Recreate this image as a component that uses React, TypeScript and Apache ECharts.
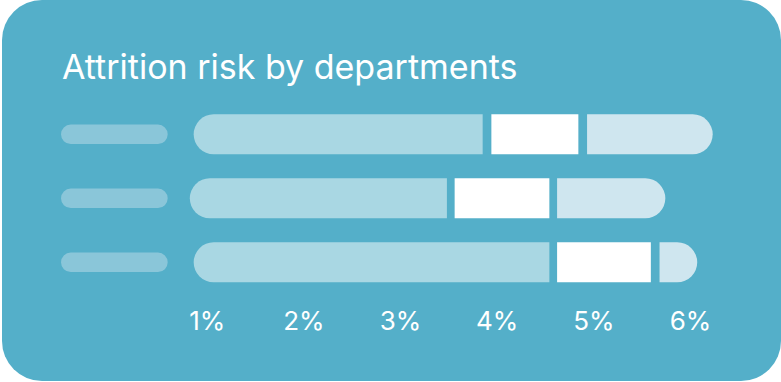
import React, { useEffect, useRef } from "react";
import * as echarts from "echarts";

const departments = ["Department A", "Department B", "Department C"];
const tickValues = [1, 2, 3, 4, 5, 6];
const barStart = [0.86, 0.82, 0.86];
const lowEnd = [3.85, 3.48, 4.54];
const midStart = [3.94, 3.56, 4.62];
const midEnd = [4.84, 4.54, 5.59];
const highStart = [4.93, 4.62, 5.68];
const highEnd = [6.23, 5.74, 6.07];
const labelPlaceholder = [1, 1, 1];

const BG = "#54AFC9";

export default function App() {
  const ref = useRef<HTMLDivElement>(null);
  useEffect(() => {
    if (!ref.current) return;
    const chart = echarts.init(ref.current, null, { renderer: "svg" });
    const offset = barStart;
    const seg1 = lowEnd.map((v, i) => +(v - barStart[i]).toFixed(3));
    const gap1 = midStart.map((v, i) => +(v - lowEnd[i]).toFixed(3));
    const seg2 = midEnd.map((v, i) => +(v - midStart[i]).toFixed(3));
    const gap2 = highStart.map((v, i) => +(v - midEnd[i]).toFixed(3));
    const seg3 = highEnd.map((v, i) => +(v - highStart[i]).toFixed(3));
    const base = { type: "bar", stack: "risk", barWidth: 40, xAxisIndex: 0, yAxisIndex: 0, silent: true };
    chart.setOption({
      animation: false,
      backgroundColor: "transparent",
      graphic: [
        {
          type: "rect",
          z: -10,
          silent: true,
          shape: { x: 2, y: 0, width: 779, height: 381, r: 40 },
          style: { fill: BG },
        },
      ],
      title: {
        text: "Attrition risk by departments",
        left: 62,
        top: 49,
        padding: 0,
        textStyle: { color: "#ffffff", fontFamily: "Inter", fontSize: 34, fontWeight: "normal" },
      },
      grid: [
        { left: 13.9, right: 42.2, top: 102.3, height: 192, containLabel: false },
        { left: 61, width: 106.7, top: 102.3, height: 192, containLabel: false },
      ],
      xAxis: [
        {
          type: "value",
          gridIndex: 0,
          min: -1,
          max: 6.5,
          interval: 1,
          axisLine: { show: false },
          axisTick: { show: false },
          splitLine: { show: false },
          axisLabel: {
            color: "#ffffff",
            fontFamily: "Inter",
            fontSize: 26,
            margin: 13,
            formatter: (v: number) => (tickValues.includes(v) ? v + "%" : ""),
          },
        },
        { type: "value", gridIndex: 1, min: 0, max: 1, show: false },
      ],
      yAxis: [
        { type: "category", gridIndex: 0, data: departments, inverse: true, show: false },
        { type: "category", gridIndex: 1, data: departments, inverse: true, show: false },
      ],
      series: [
        { ...base, name: "offset", data: offset, itemStyle: { color: "transparent" } },
        { ...base, name: "Low", data: seg1, itemStyle: { color: "#A9D7E3", borderRadius: [20, 0, 0, 20] } },
        { ...base, name: "gap1", data: gap1, itemStyle: { color: "transparent" } },
        { ...base, name: "Medium", data: seg2, itemStyle: { color: "#FFFFFF" } },
        { ...base, name: "gap2", data: gap2, itemStyle: { color: "transparent" } },
        { ...base, name: "High", data: seg3, itemStyle: { color: "#CFE6EF", borderRadius: [0, 20, 20, 0] } },
        {
          type: "bar",
          name: "labels",
          xAxisIndex: 1,
          yAxisIndex: 1,
          barWidth: 19.5,
          silent: true,
          data: labelPlaceholder,
          itemStyle: { color: "#8AC6D9", borderRadius: 10 },
        },
      ],
    });
    return () => chart.dispose();
  }, []);
  return (
    <div style={{ position: "absolute", left: 0, top: 0, width: 781, height: 382, background: "#ffffff" }}>
      <div ref={ref} style={{ width: 781, height: 382 }} />
    </div>
  );
}
